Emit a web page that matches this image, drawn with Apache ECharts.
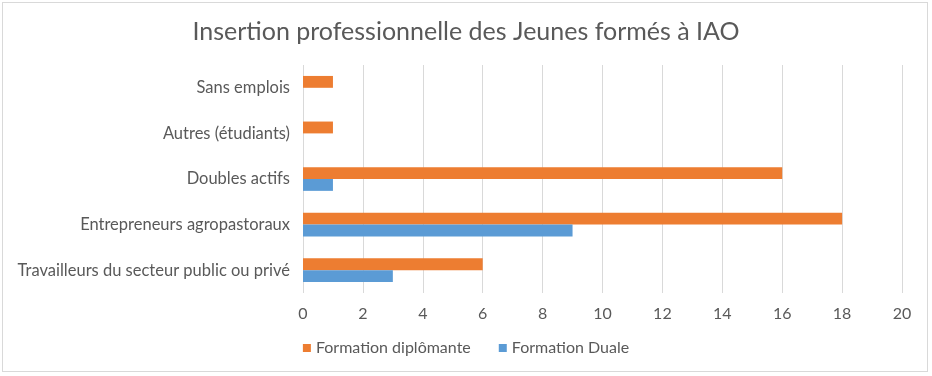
<!DOCTYPE html>
<html>
<head>
<meta charset="utf-8">
<script src="https://cdn.jsdelivr.net/npm/echarts@6/dist/echarts.min.js"></script>
<style>
html,body{margin:0;padding:0;background:#fff;}
#wrap{position:absolute;left:2px;top:2px;width:926px;height:370px;border:1px solid #D9D9D9;box-sizing:border-box;}
#chart{position:absolute;left:0;top:0;width:932px;height:376px;}
</style>
</head>
<body>
<div id="wrap"></div>
<div id="chart"></div>
<script>
const titleText = 'Insertion professionnelle des Jeunes formés à IAO';
const categories = ['Travailleurs du secteur public ou privé', 'Entrepreneurs agropastoraux', 'Doubles actifs', 'Autres (étudiants)', 'Sans emplois'];
const seriesNames = ['Formation diplômante', 'Formation Duale'];
const diplomante = [6, 18, 16, 1, 1];
const duale = [3, 9, 1, 0, 0];
const xTicks = {min: 0, max: 20, interval: 2};

const font = 'Lato';
const chart = echarts.init(document.getElementById('chart'), null, {renderer: 'canvas'});
chart.setOption({
  animation: false,
  backgroundColor: 'transparent',
  title: {
    text: titleText, left: 'center', top: 14,
    textStyle: {fontFamily: font, fontSize: 25, fontWeight: 'normal', color: '#595959'}
  },
  legend: {
    data: seriesNames, bottom: 15, left: 'center', icon: 'rect',
    itemWidth: 8, itemHeight: 8, itemGap: 28,
    textStyle: {fontFamily: font, fontSize: 16, color: '#595959'}
  },
  grid: {left: 303, right: 30, top: 65, bottom: 83, containLabel: false},
  xAxis: {
    type: 'value', min: xTicks.min, max: xTicks.max, interval: xTicks.interval,
    axisLine: {show: false}, axisTick: {show: false},
    axisLabel: {fontFamily: font, fontSize: 16, color: '#595959', margin: 13},
    splitLine: {lineStyle: {color: '#D9D9D9', width: 1}}
  },
  yAxis: {
    type: 'category', data: categories,
    axisLine: {show: false}, axisTick: {show: false},
    axisLabel: {fontFamily: font, fontSize: 16.5, color: '#595959', margin: 13}
  },
  series: [
    {name: seriesNames[0], type: 'bar', data: diplomante, itemStyle: {color: '#ED7D31'}, barGap: '0%', barCategoryGap: '48%'},
    {name: seriesNames[1], type: 'bar', data: duale, itemStyle: {color: '#5B9BD5'}, barGap: '0%', barCategoryGap: '48%'}
  ]
});
</script>
</body>
</html>
